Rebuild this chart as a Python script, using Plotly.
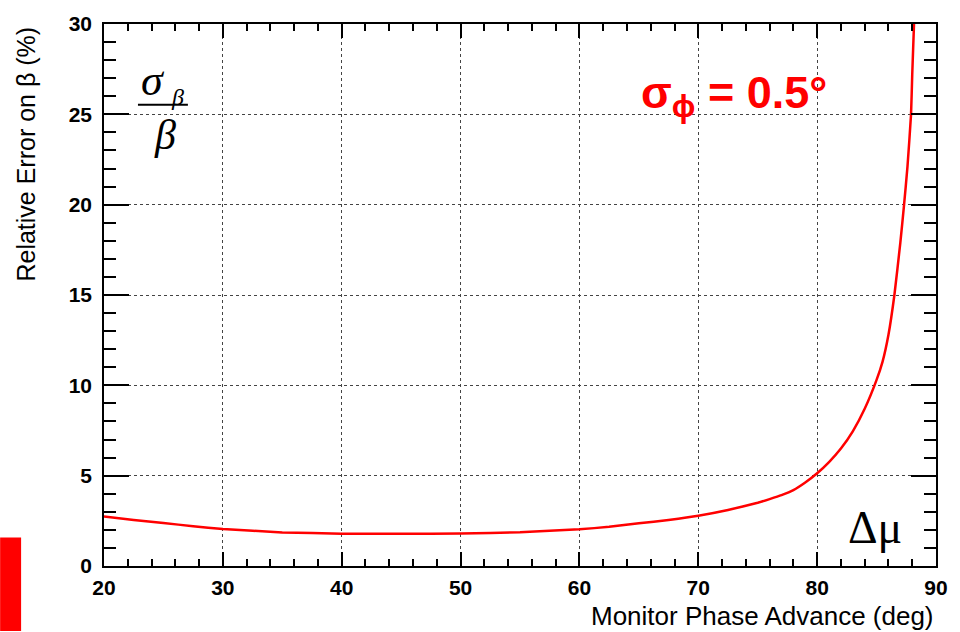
import plotly.graph_objects as go

# Data
phase_advance = [20, 22.5, 25, 27.5, 30, 35, 40, 45, 50, 55, 60, 62.5, 65, 67.5, 70,
                 72.5, 75, 76, 77, 78, 79, 80, 81, 82, 83, 84, 85, 85.5, 86, 86.5, 87,
                 87.3, 87.6, 87.9, 88.0, 88.15, 88.3]
rel_error = [2.74, 2.55, 2.38, 2.2, 2.05, 1.86, 1.79, 1.78, 1.8, 1.87, 2.03, 2.17, 2.36,
             2.55, 2.78, 3.1, 3.5, 3.7, 3.92, 4.2, 4.62, 5.13, 5.75, 6.5, 7.45, 8.7, 10.3,
             11.3, 12.8, 15.0, 17.9, 19.9, 22.1, 25.0, 27.2, 30.0, 33.0]

x_ticks = [20, 30, 40, 50, 60, 70, 80, 90]
y_ticks = [0, 5, 10, 15, 20, 25, 30]

W, H = 960, 632
L, R, T, B = 104, 937, 15, 566

def px(x):
    return (x - L) / (R - L)

def py(y):
    return (B - y) / (B - T)

fig = go.Figure()
fig.add_trace(go.Scatter(x=phase_advance, y=rel_error, mode="lines",
                         line=dict(color="#ff0000", width=2.5, shape="spline", smoothing=0.4),
                         showlegend=False, cliponaxis=True))

axis_common = dict(
    showline=True, linecolor="black", linewidth=1.5, mirror="allticks",
    ticks="inside", tickcolor="black", tickwidth=1.5,
    showgrid=True, gridcolor="#444444", griddash="dot", gridwidth=1,
    zeroline=False,
    tickfont=dict(family="Liberation Sans", size=21, color="black", weight="bold"),
)

fig.update_xaxes(range=[20, 90], tickvals=x_ticks, ticklen=14, ticklabelstandoff=2,
                 minor=dict(dtick=2, ticks="inside", ticklen=7, tickcolor="black",
                            tickwidth=1.5, showgrid=False),
                 **axis_common)
fig.update_yaxes(range=[0, 30], tickvals=y_ticks, ticklen=25, ticklabelstandoff=6,
                 minor=dict(dtick=1, ticks="inside", ticklen=12, tickcolor="black",
                            tickwidth=1.5, showgrid=False),
                 **axis_common)

ann = []
# Axis titles
ann.append(dict(text="Relative Error on β (%)", x=px(26), y=py(16), xref="paper", yref="paper",
                textangle=-90, xanchor="center", yanchor="top", showarrow=False,
                font=dict(family="Liberation Sans", size=25, color="black")))
ann.append(dict(text="Monitor Phase Advance (deg)", x=1.0, y=py(617), xref="paper", yref="paper",
                xanchor="right", yanchor="middle", showarrow=False,
                font=dict(family="Liberation Sans", size=26, color="black")))
# sigma_beta / beta fraction
ann.append(dict(text="<i>σ</i>", x=px(153), y=py(72), xref="paper", yref="paper",
                xanchor="center", yanchor="middle", showarrow=False,
                font=dict(family="Liberation Serif", size=44, color="black")))
ann.append(dict(text="<i>β</i>", x=px(178), y=py(89), xref="paper", yref="paper",
                xanchor="center", yanchor="middle", showarrow=False,
                font=dict(family="Liberation Serif", size=24, color="black")))
ann.append(dict(text="<i>β</i>", x=px(165), y=py(128), xref="paper", yref="paper",
                xanchor="center", yanchor="middle", showarrow=False,
                font=dict(family="Liberation Serif", size=42, color="black")))
# sigma_phi label
ann.append(dict(text="<b>σ<sub>ϕ</sub> = 0.5°</b>", x=px(735), y=py(88), xref="paper", yref="paper",
                xanchor="center", yanchor="middle", showarrow=False,
                font=dict(family="Liberation Sans", size=45, color="#ff0000")))
# Delta mu
ann.append(dict(text="Δμ", x=px(876), y=py(527), xref="paper", yref="paper",
                xanchor="center", yanchor="middle", showarrow=False,
                font=dict(family="Liberation Serif", size=46, color="black")))

shapes = [
    dict(type="line", xref="paper", yref="paper", x0=px(138), x1=px(188), y0=py(97), y1=py(97),
         line=dict(color="black", width=2)),
    dict(type="rect", xref="paper", yref="paper", x0=px(0), x1=px(21), y0=py(537), y1=py(632),
         fillcolor="#ff0000", line=dict(width=0)),
]

fig.update_layout(width=W, height=H, margin=dict(l=L, r=W - R, t=T, b=H - B),
                  paper_bgcolor="white", plot_bgcolor="white",
                  annotations=ann, shapes=shapes)

fig.write_html("out.html")
